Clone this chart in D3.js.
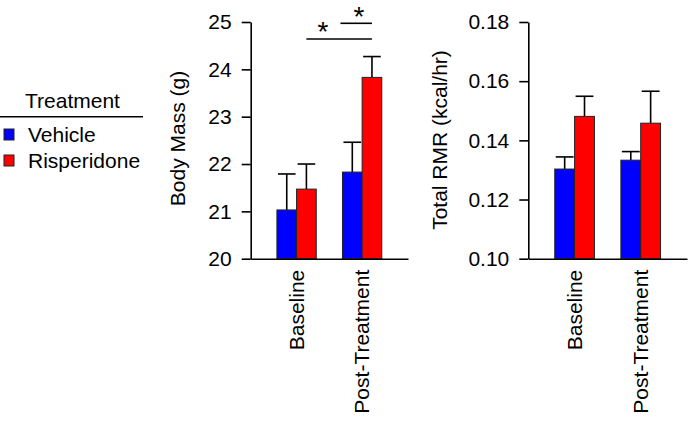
<!DOCTYPE html>
<html>
<head>
<meta charset="utf-8">
<script src="https://cdn.jsdelivr.net/npm/d3@7"></script>
<style>
  body { margin: 0; background: #fff; }
  text { font-family: "Liberation Sans", Arial, sans-serif; fill: #000; }
</style>
</head>
<body>
<div id="chart"></div>
<script>
// data
const groups = ["Baseline", "Post-Treatment"];
const treatments = ["Vehicle", "Risperidone"];
const colors = ["#0000ff", "#ff0000"];

const massVehicle = [21.03, 21.83];
const massVehicleErr = [0.76, 0.63];
const massRisp = [21.47, 23.83];
const massRispErr = [0.53, 0.44];
const massTicks = [20, 21, 22, 23, 24, 25];

const rmrVehicle = [0.1303, 0.1333];
const rmrVehicleErr = [0.0041, 0.0029];
const rmrRisp = [0.1481, 0.1458];
const rmrRispErr = [0.0068, 0.0108];
const rmrTicks = [0.10, 0.12, 0.14, 0.16, 0.18];

const W = 689, H = 422;
const yTop = 22, yBottom = 258.7;
const fs = 21;

const svg = d3.select("#chart").append("svg")
    .attr("width", W)
    .attr("height", H);

function panel(opts) {
  const x = d3.scaleBand().domain(groups).range([opts.left, opts.right])
      .paddingInner(0.4).paddingOuter(0.4);
  const xSub = d3.scaleBand().domain(treatments).range([0, x.bandwidth()]);
  const y = d3.scaleLinear().domain(opts.domain).range([yBottom, yTop]);

  const rows = [];
  groups.forEach((g, i) => {
    treatments.forEach((t, j) => {
      rows.push({group: g, trt: t, color: colors[j],
        mean: opts.means[j][i], err: opts.errs[j][i]});
    });
  });

  // error bars (drawn first, bar covers lower part)
  const eb = svg.append("g").attr("stroke", "#000").attr("stroke-width", 1.6);
  rows.forEach(d => {
    const cx = x(d.group) + xSub(d.trt) + xSub.bandwidth() / 2;
    const hw = xSub.bandwidth() / 2 - 1;
    eb.append("line").attr("x1", cx).attr("x2", cx)
      .attr("y1", y(d.mean)).attr("y2", y(d.mean + d.err));
    eb.append("line").attr("x1", cx - hw).attr("x2", cx + hw)
      .attr("y1", y(d.mean + d.err)).attr("y2", y(d.mean + d.err));
  });

  svg.append("g").selectAll("rect")
    .data(rows)
    .enter().append("rect")
      .attr("x", d => x(d.group) + xSub(d.trt))
      .attr("y", d => y(d.mean))
      .attr("width", xSub.bandwidth())
      .attr("height", d => y(opts.domain[0]) - y(d.mean))
      .attr("fill", d => d.color)
      .attr("stroke", "#222")
      .attr("stroke-width", 1);

  // y axis
  const ya = svg.append("g")
      .attr("transform", `translate(${opts.left},0)`)
      .call(d3.axisLeft(y).tickValues(opts.ticks).tickFormat(opts.fmt)
        .tickSize(9).tickPadding(10).tickSizeOuter(0));
  ya.select(".domain").attr("stroke-width", 1.6);
  ya.selectAll(".tick line").attr("stroke-width", 1.6);
  ya.selectAll("text").attr("font-size", fs).attr("font-family", "Liberation Sans, Arial");

  // x axis
  const xa = svg.append("g")
      .attr("transform", `translate(0,${yBottom})`)
      .call(d3.axisBottom(x).tickSize(0).tickSizeOuter(0));
  xa.select(".domain").attr("stroke-width", 1.6);
  xa.selectAll("text")
      .attr("font-size", fs)
      .attr("font-family", "Liberation Sans, Arial")
      .attr("text-anchor", "end")
      .attr("transform", "rotate(-90)")
      .attr("x", -11)
      .attr("y", 0)
      .attr("dy", "0.35em");

  svg.append("text")
      .attr("transform", `translate(${opts.titleX},${opts.titleY}) rotate(-90)`)
      .attr("text-anchor", "middle")
      .attr("font-size", fs)
      .text(opts.title);

  return {x, xSub, y};
}

const left = panel({
  left: 250.7, right: 408, domain: [20, 25], ticks: massTicks,
  fmt: d3.format("d"), means: [massVehicle, massRisp], errs: [massVehicleErr, massRispErr],
  title: "Body Mass (g)", titleX: 185, titleY: 138.5
});

panel({
  left: 528.3, right: 687, domain: [0.10, 0.18], ticks: rmrTicks,
  fmt: d3.format(".2f"), means: [rmrVehicle, rmrRisp], errs: [rmrVehicleErr, rmrRispErr],
  title: "Total RMR (kcal/hr)", titleX: 447, titleY: 140
});

// significance marks
const lx = left.x, ls = left.xSub;
const rispCenter = g => lx(g) + ls("Risperidone") + ls.bandwidth() / 2;
const sig = svg.append("g");
sig.append("line")
    .attr("x1", rispCenter("Baseline")).attr("x2", rispCenter("Post-Treatment"))
    .attr("y1", 39).attr("y2", 39)
    .attr("stroke", "#000").attr("stroke-width", 1.6);
sig.append("line")
    .attr("x1", lx("Post-Treatment") - 2).attr("x2", rispCenter("Post-Treatment"))
    .attr("y1", 23.3).attr("y2", 23.3)
    .attr("stroke", "#000").attr("stroke-width", 1.6);
sig.append("text")
    .attr("x", 323).attr("y", 40.5).attr("text-anchor", "middle")
    .attr("font-size", 28).text("*");
sig.append("text")
    .attr("x", 359).attr("y", 25.5).attr("text-anchor", "middle")
    .attr("font-size", 28).text("*");

// legend
const leg = svg.append("g");
leg.append("text").attr("x", 72.5).attr("y", 108).attr("text-anchor", "middle")
    .attr("font-size", fs).text("Treatment");
leg.append("line").attr("x1", 0).attr("x2", 143).attr("y1", 116.7).attr("y2", 116.7)
    .attr("stroke", "#000").attr("stroke-width", 1.6);
treatments.forEach((t, i) => {
  leg.append("rect").attr("x", 4).attr("y", 129 + i * 26).attr("width", 10).attr("height", 11)
      .attr("fill", colors[i]).attr("stroke", "#222").attr("stroke-width", 1);
  leg.append("text").attr("x", 28).attr("y", 141.5 + i * 26)
      .attr("font-size", fs).text(t);
});
</script>
</body>
</html>
